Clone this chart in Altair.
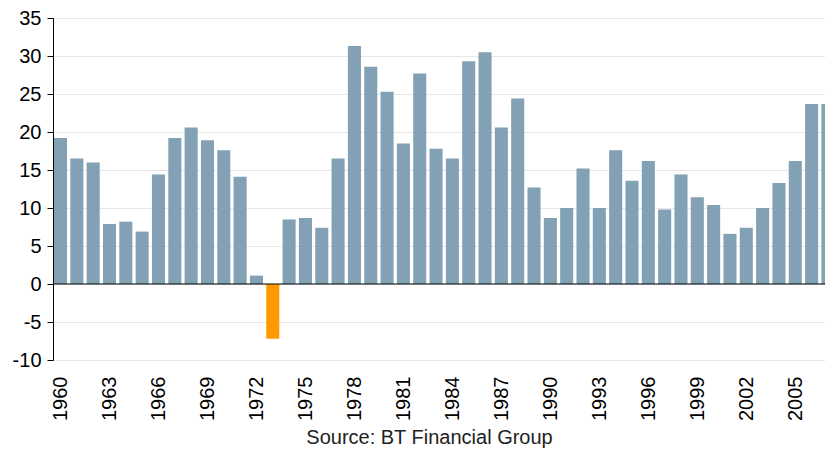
import altair as alt
import pandas as pd

years = list(range(1960, 2008))
values = [19.2, 16.5, 16.0, 7.9, 8.2, 6.9, 14.4, 19.2, 20.6, 18.9, 17.6, 14.1,
          1.1, -7.2, 8.5, 8.7, 7.4, 16.5, 31.3, 28.6, 25.3, 18.5, 27.7, 17.8,
          16.5, 29.3, 30.5, 20.6, 24.4, 12.7, 8.7, 10.0, 15.2, 10.0, 17.6, 13.6,
          16.2, 9.8, 14.4, 11.4, 10.4, 6.6, 7.4, 10.0, 13.3, 16.2, 23.7, 23.7]
tick_years = list(range(1960, 2006, 3))
y_ticks = list(range(-10, 36, 5))
source_text = "Source: BT Financial Group"

df = pd.DataFrame({"year": years, "value": values})
FONT = "Liberation Sans"

y_scale = alt.Scale(domain=[-10, 35], nice=False, zero=False, padding=0)
y_axis = alt.Axis(values=y_ticks, title=None, tickSize=6, tickColor="#000000",
                  domainColor="#000000", labelFontSize=20, labelFont=FONT,
                  labelColor="#000000", labelPadding=6, labelOverlap=False,
                  labelFlush=False, labelExpr="'' + datum.value",
                  grid=True, gridColor="#cccccc", gridDash=[1, 1], gridWidth=1)

bars = alt.Chart(df).transform_calculate(
    x0="datum.year - 0.4", x1="datum.year + 0.4", base="0"
).mark_bar(clip=True).encode(
    x=alt.X("x0:Q",
            scale=alt.Scale(domain=[1959.54, 2006.82], nice=False, zero=False, padding=0),
            axis=alt.Axis(values=tick_years, format="d", labelAngle=270, ticks=False,
                          domain=False, labelPadding=16, labelFontSize=20, labelFont=FONT,
                          labelColor="#000000", grid=False, labelOverlap=False,
                          labelFlush=False,
                          title=source_text, titleFont=FONT, titleFontSize=20,
                          titleFontWeight="normal", titleColor="#222222",
                          titleX=376, titleY=83, titleAlign="center",
                          titleBaseline="alphabetic")),
    x2="x1:Q",
    y=alt.Y("value:Q", scale=y_scale, axis=y_axis),
    y2="base:Q",
    color=alt.condition(alt.datum.value < 0, alt.value("#ff9900"), alt.value("#82a1b4")),
)

zero = alt.Chart(pd.DataFrame({"value": [0]})).mark_rule(color="#000000", strokeWidth=1.2).encode(
    y=alt.Y("value:Q", scale=y_scale, axis=y_axis)
)

chart = alt.layer(bars, zero).properties(
    width=772, height=342,
    autosize=alt.AutoSizeParams(type="none"),
    padding={"left": 45, "top": 10, "right": 0, "bottom": 90},
    background="white",
).configure_view(stroke=None)

chart.save("out.html", embed_options={"renderer": "svg", "actions": False})
